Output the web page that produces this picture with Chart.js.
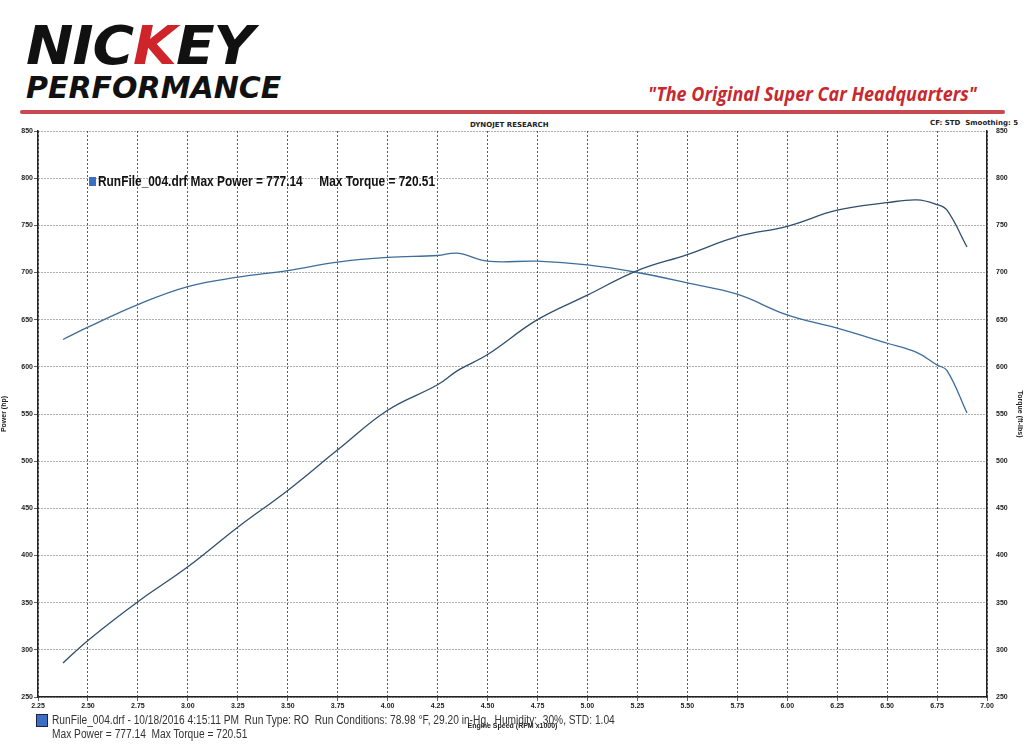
<!DOCTYPE html>
<html><head><meta charset="utf-8">
<script src="https://cdn.jsdelivr.net/npm/chart.js@4/dist/chart.umd.min.js"></script>
<style>
body{margin:0;width:1024px;height:752px;background:#fff;position:relative;overflow:hidden;font-family:"Liberation Sans",Arial,sans-serif}
.abs{position:absolute;white-space:nowrap}
#wrap{position:absolute;left:0;top:110px;width:1024px;height:620px}
.nar{font-family:'Liberation Sans';transform:scaleX(0.85);transform-origin:left}
</style></head><body>
<div class="abs" style="left:26px;top:14px;font:italic 900 54px 'DejaVu Sans';letter-spacing:-1px;color:#111;transform:scaleX(1.05);transform-origin:left">NIC<span style="color:#d0242b">K</span>EY</div>
<div class="abs" style="left:26px;top:70px;font:italic 900 30px 'DejaVu Sans';color:#111">PERFORMANCE</div>
<div class="abs" style="left:648px;top:80px;font:italic bold 20px 'Open Sans';color:#c8282e;transform:scaleX(0.9);transform-origin:left">"The Original Super Car Headquarters"</div>
<div class="abs" style="left:20px;top:110px;width:985px;height:4px;background:#c8494e;border-radius:2px"></div>
<div class="abs" style="left:470px;top:121px;font:bold 7px 'DejaVu Sans';color:#222">DYNOJET RESEARCH</div>
<div class="abs" style="left:930px;top:119px;font:bold 7px 'DejaVu Sans';color:#222">CF: STD &nbsp;Smoothing: 5</div>
<div id="wrap"><canvas id="c"></canvas></div>
<div class="abs" style="left:89px;top:177px;width:7px;height:9px;background:#3a6fc4"></div>
<div class="abs nar" style="left:98px;top:173px;font-weight:bold;font-size:14px;color:#111">RunFile_004.drf Max Power = 777.14 &nbsp;&nbsp;&nbsp;&nbsp;Max Torque = 720.51</div>
<div class="abs" style="left:36px;top:714px;width:10px;height:11px;background:#3a6fc4;border:1px solid #224"></div>
<div class="abs nar" style="left:52px;top:713px;font-size:12px;color:#333">RunFile_004.drf - 10/18/2016 4:15:11 PM &nbsp;Run Type: RO &nbsp;Run Conditions: 78.98 °F, 29.20 in-Hg, &nbsp;Humidity: &nbsp;30%, STD: 1.04</div>
<div class="abs nar" style="left:52px;top:727px;font-size:12px;color:#333">Max Power = 777.14 &nbsp;Max Torque = 720.51</div>
<script>
const rpm    = [2.375,2.5,2.75,3.0,3.25,3.5,3.75,4.0,4.25,4.35,4.5,4.75,5.0,5.25,5.5,5.75,6.0,6.25,6.5,6.65,6.75,6.8,6.9];
const power  = [286,310,351,388,430,469,512,554,581,596,613,650,676,702,719,738,749,766,774,777,772,766,727];
const torque = [629,642,666,685,695,702,711,716,718,720.5,712,712,708,700,689,677,655,641,625,615,602,596,551];
const xTicks = [2.25,2.5,2.75,3,3.25,3.5,3.75,4,4.25,4.5,4.75,5,5.25,5.5,5.75,6,6.25,6.5,6.75,7];
const grid = {color:'#333',lineWidth:0.8,tickLength:4};
new Chart(document.getElementById('c'),{
  type:'line',
  data:{datasets:[
    {label:'Power',data:rpm.map((x,i)=>({x,y:power[i]})),borderColor:'#2f4f6e',borderWidth:1.3,pointRadius:0,tension:0.4,yAxisID:'y'},
    {label:'Torque',data:rpm.map((x,i)=>({x,y:torque[i]})),borderColor:'#3d6d9a',borderWidth:1.3,pointRadius:0,tension:0.4,yAxisID:'y2'}
  ]},
  options:{responsive:true,maintainAspectRatio:false,animation:false,
    layout:{padding:{top:21}},
    plugins:{legend:{display:false},tooltip:{enabled:false}},
    scales:{
      x:{type:'linear',min:2.25,max:7,afterBuildTicks:a=>{a.ticks=xTicks.map(v=>({value:v}));},
        ticks:{callback:v=>v.toFixed(2),font:{size:7,weight:'bold'},color:'#222',maxRotation:0,padding:1},
        grid:{...grid},border:{color:'#222',width:1.5,dash:[2,2]},
        title:{display:true,text:'Engine Speed (RPM x1000)',font:{size:7,weight:'bold'},color:'#222',padding:0},
        afterFit:a=>{a.height=33;}},
      y:{min:250,max:850,ticks:{stepSize:50,font:{size:7,weight:'bold'},color:'#222',padding:1},
        grid:{...grid},border:{color:'#222',width:1.5,dash:[1,2]},
        title:{display:true,text:'Power (hp)',font:{size:7,weight:'bold'},color:'#222',padding:0},
        afterFit:a=>{a.width=38;}},
      y2:{position:'right',min:250,max:850,ticks:{stepSize:50,font:{size:7,weight:'bold'},color:'#222',padding:1},
        grid:{display:false},border:{color:'#222',width:1.5},
        title:{display:true,text:'Torque (ft-lbs)',font:{size:7,weight:'bold'},color:'#222',padding:0},
        afterFit:a=>{a.width=37;}}
    }
  }
});
</script>
</body></html>
